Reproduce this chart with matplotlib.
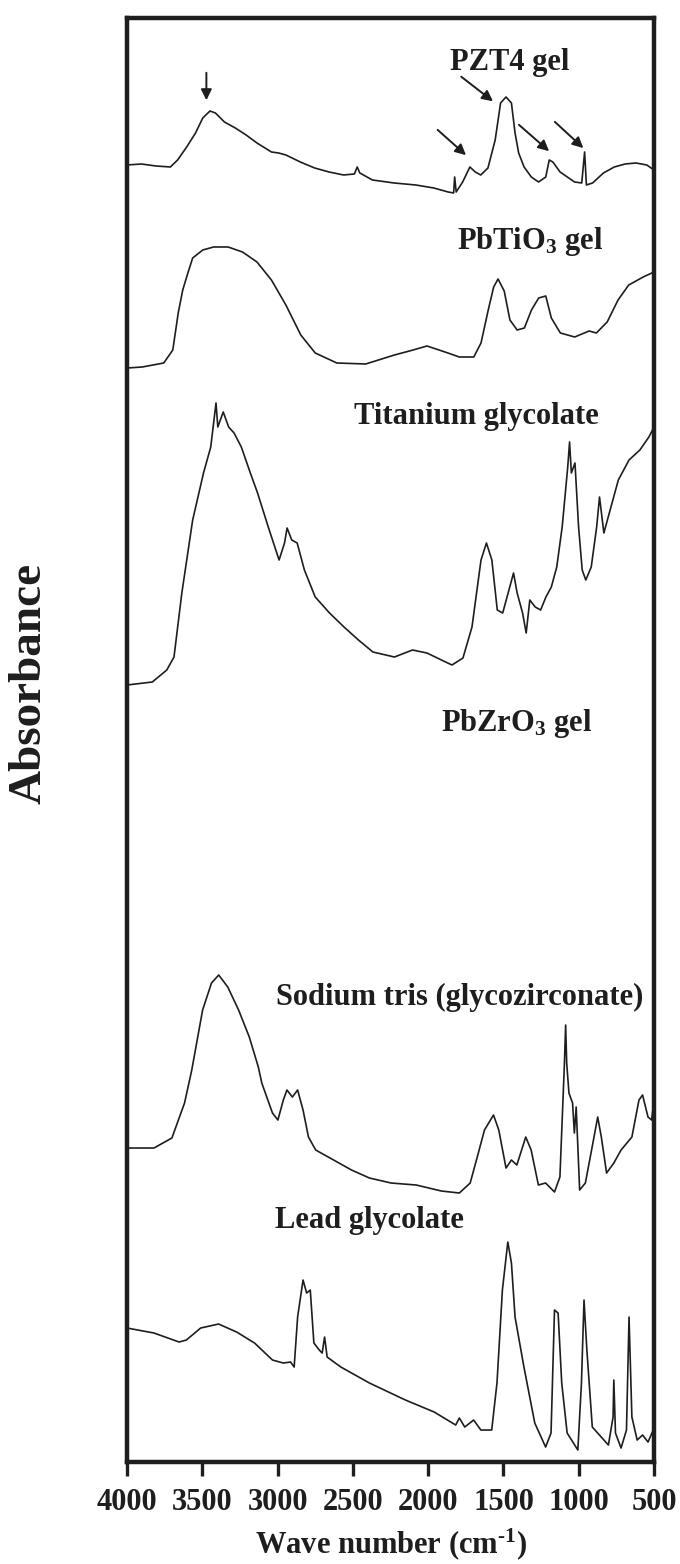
import matplotlib as mpl
mpl.use("Agg")
import matplotlib.pyplot as plt
import numpy as np

# FTIR spectra, stacked with vertical offsets (absorbance, arbitrary units)
pzt4_wn = [4000, 3904, 3808, 3712, 3664, 3604, 3545, 3497, 3449, 3413, 3353, 3281, 3209, 3137,
           3041, 2993, 2945, 2849, 2754, 2658, 2562, 2490, 2471, 2454, 2370, 2226, 2082, 1963,
           1867, 1831, 1824, 1814, 1771, 1723, 1687, 1651, 1603, 1555, 1519, 1483, 1447, 1423,
           1399, 1363, 1315, 1267, 1219, 1196, 1172, 1148, 1124, 1076, 1028, 980, 961, 949,
           908, 836, 764, 692, 620, 548, 500]
pzt4_abs = [12.97, 12.98, 12.96, 12.95, 13.02, 13.15, 13.29, 13.44, 13.51, 13.49, 13.40, 13.34,
            13.27, 13.19, 13.10, 13.09, 13.07, 13.00, 12.94, 12.90, 12.87, 12.88, 12.95, 12.89,
            12.82, 12.79, 12.77, 12.74, 12.70, 12.69, 12.85, 12.70, 12.80, 12.95, 12.90, 12.87,
            12.94, 13.22, 13.59, 13.65, 13.59, 13.29, 13.09, 12.95, 12.85, 12.80, 12.85, 13.02,
            13.00, 12.95, 12.90, 12.85, 12.80, 12.79, 13.10, 12.77, 12.79, 12.89, 12.95, 12.98,
            12.99, 12.97, 12.92]

pbtio3_wn = [4000, 3899, 3756, 3696, 3660, 3630, 3600, 3564, 3497, 3425, 3329, 3233, 3137, 3041,
             2945, 2846, 2750, 2607, 2415, 2224, 2100, 2008, 1888, 1793, 1697, 1649, 1601, 1565,
             1536, 1495, 1457, 1409, 1361, 1314, 1266, 1219, 1182, 1122, 1027, 931, 883, 811,
             739, 668, 572, 500]
pbtio3_abs = [10.94, 10.95, 10.99, 11.12, 11.49, 11.72, 11.87, 12.04, 12.12, 12.15, 12.15, 12.10,
              12.00, 11.82, 11.57, 11.27, 11.09, 10.99, 10.98, 11.07, 11.12, 11.16, 11.10, 11.05,
              11.05, 11.19, 11.52, 11.75, 11.83, 11.71, 11.42, 11.32, 11.34, 11.52, 11.64, 11.66,
              11.44, 11.29, 11.25, 11.31, 11.29, 11.40, 11.62, 11.77, 11.85, 11.90]

tigly_wn = [4000, 3832, 3736, 3688, 3636, 3564, 3492, 3444, 3409, 3397, 3361, 3325, 3289, 3241,
            3181, 3133, 3062, 2990, 2954, 2937, 2906, 2870, 2822, 2750, 2655, 2559, 2463, 2367,
            2224, 2104, 2008, 1912, 1842, 1769, 1709, 1649, 1613, 1577, 1541, 1505, 1469, 1433,
            1409, 1373, 1349, 1325, 1289, 1253, 1218, 1182, 1146, 1110, 1073, 1061, 1049, 1025,
            1001, 977, 953, 917, 881, 862, 833, 797, 737, 666, 594, 534, 500]
tigly_abs = [7.77, 7.80, 7.92, 8.05, 8.69, 9.42, 9.89, 10.15, 10.59, 10.35, 10.50, 10.35, 10.29,
             10.15, 9.89, 9.69, 9.35, 9.02, 9.19, 9.34, 9.22, 9.19, 8.92, 8.65, 8.49, 8.35, 8.22,
             8.10, 8.05, 8.12, 8.09, 8.02, 7.97, 8.04, 8.35, 9.02, 9.19, 9.02, 8.52, 8.49, 8.69,
             8.89, 8.69, 8.49, 8.29, 8.62, 8.55, 8.52, 8.65, 8.75, 8.95, 9.35, 9.95, 10.20, 9.89,
             9.99, 9.35, 8.92, 8.82, 8.95, 9.35, 9.65, 9.29, 9.49, 9.82, 10.02, 10.12, 10.25, 10.35]

nazr_wn = [4000, 3821, 3702, 3618, 3570, 3498, 3439, 3391, 3331, 3259, 3188, 3128, 3105, 3034,
           2998, 2962, 2938, 2902, 2867, 2831, 2795, 2747, 2628, 2509, 2390, 2246, 2079, 1912,
           1793, 1721, 1674, 1626, 1566, 1531, 1483, 1447, 1411, 1352, 1316, 1268, 1220, 1161,
           1125, 1095, 1087, 1080, 1065, 1041, 1029, 1017, 994, 956, 906, 874, 850, 815, 767,
           719, 647, 600, 576, 540, 516, 500]
nazr_abs = [3.14, 3.14, 3.24, 3.59, 3.92, 4.52, 4.79, 4.87, 4.75, 4.52, 4.25, 3.95, 3.79, 3.49,
            3.42, 3.62, 3.72, 3.65, 3.72, 3.52, 3.25, 3.12, 3.02, 2.92, 2.84, 2.79, 2.77, 2.71,
            2.69, 2.79, 3.05, 3.32, 3.47, 3.32, 2.94, 3.02, 2.97, 3.25, 3.12, 2.77, 2.79, 2.70,
            2.85, 3.99, 4.37, 3.99, 3.69, 3.59, 3.29, 3.55, 2.72, 2.79, 3.19, 3.45, 3.25, 2.89,
            2.99, 3.12, 3.25, 3.62, 3.67, 3.45, 3.42, 3.62]

pbgly_wn = [4000, 3821, 3654, 3606, 3511, 3392, 3272, 3153, 3034, 2962, 2914, 2890, 2867, 2831,
            2807, 2783, 2759, 2723, 2704, 2688, 2671, 2580, 2390, 2151, 1960, 1817, 1793, 1757,
            1698, 1650, 1578, 1543, 1507, 1471, 1447, 1423, 1364, 1292, 1220, 1184, 1161, 1137,
            1113, 1077, 1006, 982, 965, 946, 910, 803, 772, 767, 756, 719, 683, 666, 647, 612,
            576, 540, 505]
pbgly_abs = [1.34, 1.29, 1.20, 1.22, 1.34, 1.38, 1.30, 1.19, 1.02, 0.99, 1.00, 0.95, 1.45, 1.82,
             1.69, 1.72, 1.19, 1.12, 1.09, 1.25, 1.05, 0.95, 0.79, 0.62, 0.50, 0.37, 0.44, 0.35,
             0.42, 0.32, 0.32, 0.79, 1.72, 2.20, 1.99, 1.45, 0.95, 0.39, 0.15, 0.29, 1.52, 1.49,
             0.79, 0.29, 0.12, 0.79, 1.62, 1.12, 0.35, 0.17, 0.45, 0.82, 0.29, 0.14, 0.32, 1.45,
             0.45, 0.22, 0.27, 0.20, 0.32]

# sample names and where they sit (wavenumber, absorbance)
labels = ["PZT4 gel", r"PbTiO$_3$ gel", "Titanium glycolate", r"PbZrO$_3$ gel",
          "Sodium tris (glycozirconate)", "Lead glycolate"]
label_wn = [1456, 1324, 1680, 1410, 1788, 2390]
label_abs = [13.99, 12.20, 10.45, 7.39, 4.65, 2.42]

# arrows on the PZT4 gel trace: (tail wn, tail abs, head wn, head abs)
arrows = [(3473, 13.92, 3473, 13.59),
          (1951, 13.34, 1735, 13.05),
          (1795, 13.87, 1555, 13.59),
          (1411, 13.39, 1183, 13.09),
          (1172, 13.42, 956, 13.12)]

plt.rcParams['font.family'] = 'Liberation Serif'
plt.rcParams['font.weight'] = 'bold'
plt.rcParams['mathtext.fontset'] = 'custom'
plt.rcParams['mathtext.rm'] = 'Liberation Serif:bold'
plt.rcParams['mathtext.it'] = 'Liberation Serif:bold'
plt.rcParams['mathtext.bf'] = 'Liberation Serif:bold'

ink = '#1e1e1e'

fig = plt.figure(figsize=(6.8, 15.64), dpi=100)
ax = fig.add_axes([0.1868, 0.0652, 0.775, 0.9233])

for wn, a in [(pzt4_wn, pzt4_abs), (pbtio3_wn, pbtio3_abs), (tigly_wn, tigly_abs),
              (nazr_wn, nazr_abs), (pbgly_wn, pbgly_abs)]:
    ax.plot(wn, a, color=ink, linewidth=1.2)

for txt, x, y in zip(labels, label_wn, label_abs):
    ax.text(x, y, txt, ha='center', va='center', fontsize=22, fontweight='bold', color=ink)

for x0, y0, x1, y1 in arrows:
    ax.annotate('', xy=(x1, y1), xytext=(x0, y0),
                arrowprops=dict(arrowstyle='-|>', color=ink, lw=1.4, mutation_scale=16))

ax.set_xlim(4000, 500)
ax.set_ylim(0, 14.44)
ax.set_xticks(np.arange(4000, 499, -500))
ax.set_yticks([])
for s in ax.spines.values():
    s.set_linewidth(3.2)
    s.set_color(ink)
ax.tick_params(axis='x', direction='out', length=10, width=2.4, pad=9, labelsize=22, colors=ink)
for t in ax.get_xticklabels():
    t.set_fontweight('bold')

ax.set_xlabel(r'Wave number (cm$^{\text{-}1}$)', fontsize=22, fontweight='bold', color=ink,
              labelpad=6)
fig.text(0.044, 0.563, 'Absorbance', rotation=90, ha='center', va='center',
         fontsize=34, fontweight='bold', color=ink)

fig.savefig('out.png', dpi=100)
